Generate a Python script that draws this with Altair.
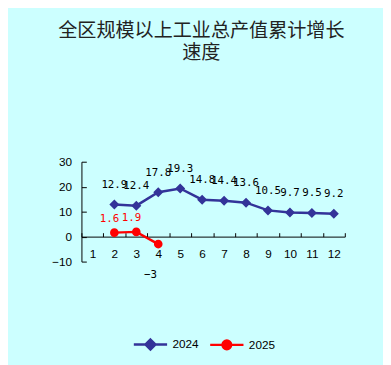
import altair as alt
import pandas as pd

# ---- data ----
months = [1, 2, 3, 4, 5, 6, 7, 8, 9, 10, 11, 12]
growth_2024 = [None, 12.9, 12.4, 17.8, 19.3, 14.8, 14.4, 13.6, 10.5, 9.7, 9.5, 9.2]
growth_2025 = [None, 1.6, 1.9, -3.0, None, None, None, None, None, None, None, None]
series_names = ["2024", "2025"]
series_colors = ["#333399", "#FF0000"]
x_tick_values = [0.5, 1.5, 2.5, 3.5, 4.5, 5.5, 6.5, 7.5, 8.5, 9.5, 10.5, 11.5, 12.5]
y_tick_values = [-10, 0, 10, 20, 30]
title_lines = ["全区规模以上工业总产值累计增长", "速度"]

rows = []
for name, vals in zip(series_names, [growth_2024, growth_2025]):
    for m, v in zip(months, vals):
        if v is not None:
            rows.append({"month": m, "value": v, "series": name})
df = pd.DataFrame(rows)

W, H = 269, 102
x_scale = alt.Scale(domain=[0.5, 12.5], nice=False, zero=False)
y_scale = alt.Scale(domain=[-10, 30], nice=False, zero=False)

x_main = alt.X("month:Q", scale=x_scale, title=None,
               axis=alt.Axis(orient="bottom", values=months, format="d", offset=-25.5,
                             ticks=False, tickSize=0, labelPadding=12, grid=False,
                             domainColor="black", domainWidth=1, labelColor="black",
                             labelFont="Liberation Sans", labelFontSize=12))
y_main = alt.Y("value:Q", scale=y_scale, title=None,
               axis=alt.Axis(orient="left", values=y_tick_values, ticks=False, tickSize=0,
                             labelPadding=10, grid=False, domainColor="black", domainWidth=1,
                             labelColor="black", labelFont="Liberation Sans", labelFontSize=12))
x_tick = alt.X("month:Q", scale=x_scale, title=None,
               axis=alt.Axis(orient="top", values=x_tick_values, labels=False, domain=False,
                             tickSize=4, tickColor="black", offset=-76.5, grid=False))
y_tick = alt.Y("value:Q", scale=y_scale, title=None,
               axis=alt.Axis(orient="right", values=y_tick_values, labels=False, domain=False,
                             tickSize=5, tickColor="black", offset=-W, grid=False))
x_plain = alt.X("month:Q", scale=x_scale, axis=None)
y_plain = alt.Y("value:Q", scale=y_scale, axis=None)

color_scale = alt.Scale(domain=series_names, range=series_colors)
shape_scale = alt.Scale(
    domain=series_names,
    range=[
        "M-1,0H1M0,-0.3L0.3,0L0,0.3L-0.3,0Z",
        "M-1,0H1M-0.26,0A0.26,0.26,0,1,0,0.26,0A0.26,0.26,0,1,0,-0.26,0Z",
    ],
)
leg = alt.Legend(title=None, orient="none", legendX=52, legendY=168, direction="horizontal",
                 symbolSize=1156, symbolStrokeWidth=2.5, labelFont="Liberation Sans",
                 labelFontSize=12, labelColor="black", labelOffset=4, columnPadding=6)

base = alt.Chart(df)

lines = base.mark_line(strokeWidth=2.5).encode(
    x=x_main, y=y_main,
    color=alt.Color("series:N", scale=color_scale, legend=leg),
)

points = base.mark_point(filled=True, size=1156, opacity=1).encode(
    x=x_tick, y=y_tick,
    fill=alt.Fill("series:N", scale=color_scale, legend=None),
    stroke=alt.Stroke("series:N", scale=color_scale, legend=None),
    shape=alt.Shape("series:N", scale=shape_scale, legend=leg),
    strokeWidth=alt.value(0),
)

label_font = "DejaVu Sans Mono"
labels_2024 = base.transform_filter(alt.datum.series == "2024").mark_text(
    dy=-20, font=label_font, fontSize=11, color="black"
).encode(x=x_plain, y=y_plain, text=alt.Text("value:Q", format=".1f"))

labels_2025_pos = base.transform_filter(
    (alt.datum.series == "2025") & (alt.datum.value >= 0)
).mark_text(dy=-14, dx=-5, font=label_font, fontSize=11, color="#FF0000").encode(
    x=x_plain, y=y_plain, text=alt.Text("value:Q", format=".1f"))

labels_2025_neg = base.transform_filter(
    (alt.datum.series == "2025") & (alt.datum.value < 0)
).mark_text(dy=32, dx=-8, font=label_font, fontSize=11, color="black").encode(
    x=x_plain, y=y_plain, text=alt.Text("value:Q", format="d"))

chart = alt.layer(lines, points, labels_2024, labels_2025_pos, labels_2025_neg).resolve_axis(
    x="independent", y="independent"
).properties(
    width=W, height=H,
    padding={"left": 75, "top": 153, "right": 39, "bottom": 120},
    autosize=alt.AutoSizeParams(type="none"),
    background="#CCFFFF",
    title=alt.TitleParams(text=title_lines, font="Noto Sans CJK SC", fontSize=19.5,
                          fontWeight="normal", color="#222222", anchor="middle",
                          lineHeight=23, offset=94, dx=-12),
).configure_view(strokeWidth=0)

chart.save("out.html", embed_options={"renderer": "svg", "actions": False})
